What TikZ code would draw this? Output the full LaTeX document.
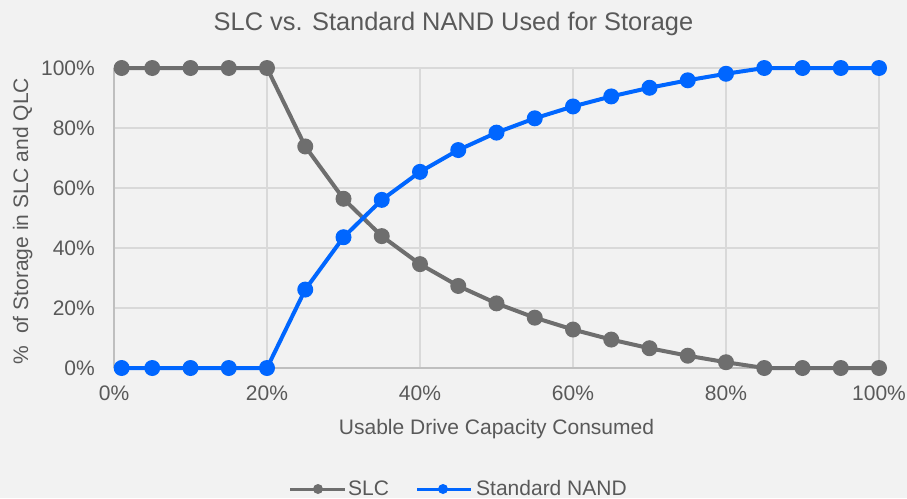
\documentclass[tikz,border=0pt]{standalone}
\usepackage{fontspec}
\setmainfont{Liberation Sans}
\definecolor{bg}{HTML}{F2F2F2}
\definecolor{gridc}{HTML}{D9D9D9}
\definecolor{axisc}{HTML}{BFBFBF}
\definecolor{txt}{HTML}{595959}
\definecolor{slcc}{HTML}{6E6E6E}
\definecolor{nandc}{HTML}{0066FF}
\tikzset{
  lbl/.style={text=txt, inner sep=0pt, font=\fontsize{21}{25}\selectfont},
  gridline/.style={draw=gridc, line width=2pt},
  axisline/.style={draw=axisc, line width=2pt},
  series/.style={line width=4pt, line join=round, line cap=round},
  dot/.style={circle, inner sep=0pt, minimum size=16pt, draw=none},
  legdot/.style={circle, inner sep=0pt, minimum size=10pt, draw=none},
}
\begin{document}
\begin{tikzpicture}[x=1pt, y=-1pt]
  % page and background
  \fill[bg] (0,0) rectangle (907,498);
  \useasboundingbox (0,0) rectangle (907,498);

  % grid
  \foreach \gy in {68,128,188,248,308}
    \draw[gridline] (114,\gy) -- (879,\gy);
  \foreach \gx in {267,420,573,726,879}
    \draw[gridline] (\gx,68) -- (\gx,368);
  \draw[axisline] (114,68) -- (114,368);
  \draw[axisline] (114,368) -- (879,368);

  % y tick labels
  \foreach \v/\gy in {0/368,20/308,40/248,60/188,80/128,100/68}
    \node[lbl, anchor=base east] (yt\v) at (95,\gy+7.5) {\v\%};
  % x tick labels
  \foreach \v/\gx in {0/114,20/267,40/420,60/573,80/726,100/879}
    \node[lbl, anchor=base] (xt\v) at (\gx,400) {\v\%};

  % titles
  \node[lbl, font=\fontsize{25.4}{30}\selectfont, anchor=base] (title) at (453.5,30)
    {SLC vs. Standard NAND Used for Storage};
  \node[lbl, anchor=base] (xtitle) at (496.5,434) {Usable Drive Capacity Consumed};
  \node[lbl, anchor=base, rotate=90] (ytitle) at (28,221)
    {\%\ \ of Storage in SLC and QLC};

  % data series
  \begin{scope}[shift={(114pt,-368pt)}, x=7.65pt, y=3pt]
    \foreach \p/\s [count=\i] in {1/100,5/100,10/100,15/100,20/100,
        25/73.85,30/56.41,35/43.96,40/34.62,45/27.35,50/21.54,55/16.78,
        60/12.82,65/9.47,70/6.59,75/4.10,80/1.92,85/0,90/0,95/0,100/0}
    {
      \coordinate (s\i) at (\p,\s);
      \coordinate (n\i) at (\p,100-\s);
    }
    \draw[series, slcc] (s1) \foreach \i in {2,...,21} { -- (s\i) };
    \foreach \i in {1,...,21} \node[dot, fill=slcc] (sm\i) at (s\i) {};
    \draw[series, nandc] (n1) \foreach \i in {2,...,21} { -- (n\i) };
    \foreach \i in {1,...,21} \node[dot, fill=nandc] (nm\i) at (n\i) {};
  \end{scope}

  % legend
  \coordinate (la1) at (290,489);
  \coordinate (la2) at (345,489);
  \draw[line width=3pt, slcc] (la1) -- (la2);
  \node[legdot, fill=slcc] (lm1) at (318,489) {};
  \node[lbl, anchor=base west] (lt1) at (348,495.5) {SLC};
  \coordinate (lb1) at (417,489);
  \coordinate (lb2) at (471,489);
  \draw[line width=3pt, nandc] (lb1) -- (lb2);
  \node[legdot, fill=nandc] (lm2) at (443,489) {};
  \node[lbl, anchor=base west] (lt2) at (476,495.5) {Standard NAND};
\end{tikzpicture}
\end{document}
